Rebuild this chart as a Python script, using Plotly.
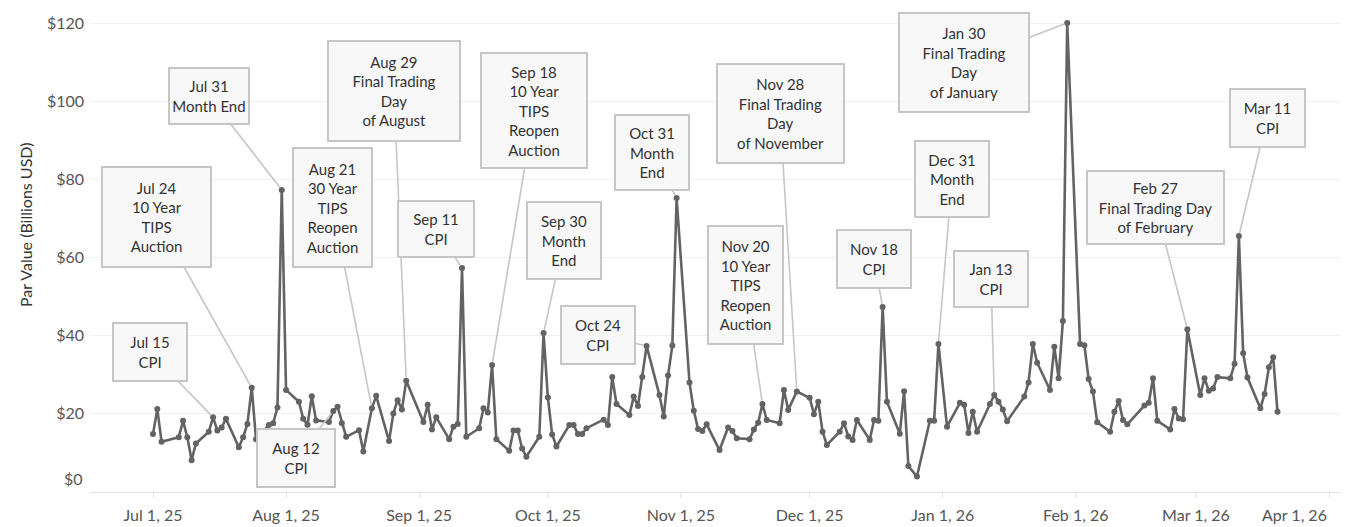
import plotly.graph_objects as go
from datetime import datetime, timedelta

# ---------------- data ----------------
dates = [
    "2025-07-01", "2025-07-02", "2025-07-03", "2025-07-07", "2025-07-08", "2025-07-09", "2025-07-10", "2025-07-11",
    "2025-07-14", "2025-07-15", "2025-07-16", "2025-07-17", "2025-07-18", "2025-07-21", "2025-07-22", "2025-07-23",
    "2025-07-24", "2025-07-25", "2025-07-28", "2025-07-29", "2025-07-30", "2025-07-31", "2025-08-01",
    "2025-08-04", "2025-08-05", "2025-08-06", "2025-08-07", "2025-08-08", "2025-08-11", "2025-08-12", "2025-08-13",
    "2025-08-14", "2025-08-15", "2025-08-18", "2025-08-19", "2025-08-21", "2025-08-22", "2025-08-25", "2025-08-26",
    "2025-08-27", "2025-08-28", "2025-08-29",
    "2025-09-02", "2025-09-03", "2025-09-04", "2025-09-05", "2025-09-08", "2025-09-09", "2025-09-10", "2025-09-11",
    "2025-09-12", "2025-09-15", "2025-09-16", "2025-09-17", "2025-09-18", "2025-09-19", "2025-09-22", "2025-09-23",
    "2025-09-24", "2025-09-25", "2025-09-26", "2025-09-29", "2025-09-30",
    "2025-10-01", "2025-10-02", "2025-10-03", "2025-10-06", "2025-10-07", "2025-10-08", "2025-10-09", "2025-10-10",
    "2025-10-14", "2025-10-15", "2025-10-16", "2025-10-17", "2025-10-20", "2025-10-21", "2025-10-22", "2025-10-23",
    "2025-10-24", "2025-10-27", "2025-10-28", "2025-10-29", "2025-10-30", "2025-10-31",
    "2025-11-03", "2025-11-04", "2025-11-05", "2025-11-06", "2025-11-07", "2025-11-10", "2025-11-12", "2025-11-13",
    "2025-11-14", "2025-11-17", "2025-11-18", "2025-11-19", "2025-11-20", "2025-11-21", "2025-11-24", "2025-11-25",
    "2025-11-26", "2025-11-28",
    "2025-12-01", "2025-12-02", "2025-12-03", "2025-12-04", "2025-12-05", "2025-12-08", "2025-12-09", "2025-12-10",
    "2025-12-11", "2025-12-12", "2025-12-15", "2025-12-16", "2025-12-17", "2025-12-18", "2025-12-19", "2025-12-22",
    "2025-12-23", "2025-12-24", "2025-12-26", "2025-12-29", "2025-12-30", "2025-12-31",
    "2026-01-02", "2026-01-05", "2026-01-06", "2026-01-07", "2026-01-08", "2026-01-09", "2026-01-12", "2026-01-13",
    "2026-01-14", "2026-01-15", "2026-01-16", "2026-01-20", "2026-01-21", "2026-01-22", "2026-01-23", "2026-01-26",
    "2026-01-27", "2026-01-28", "2026-01-29", "2026-01-30",
    "2026-02-02", "2026-02-03", "2026-02-04", "2026-02-05", "2026-02-06", "2026-02-09", "2026-02-10", "2026-02-11",
    "2026-02-12", "2026-02-13", "2026-02-17", "2026-02-18", "2026-02-19", "2026-02-20", "2026-02-23", "2026-02-24",
    "2026-02-25", "2026-02-26", "2026-02-27",
    "2026-03-02", "2026-03-03", "2026-03-04", "2026-03-05", "2026-03-06", "2026-03-09", "2026-03-10", "2026-03-11",
    "2026-03-12", "2026-03-13", "2026-03-16", "2026-03-17", "2026-03-18", "2026-03-19", "2026-03-20",
]
values = [
    14.6, 21.0, 12.6, 13.8, 18.0, 13.8, 7.9, 12.2,
    15.2, 18.9, 15.5, 16.3, 18.5, 11.2, 13.8, 17.2,
    26.5, 13.3, 16.9, 17.4, 21.4, 77.2, 25.9,
    22.9, 18.5, 17.0, 24.3, 18.1, 17.7, 20.5, 21.6,
    17.4, 13.9, 15.6, 10.1, 21.2, 24.4, 12.8, 19.9,
    23.3, 20.9, 28.3,
    17.7, 22.1, 15.8, 18.9, 13.3, 16.5, 17.2, 57.2,
    13.9, 16.1, 21.2, 20.1, 32.3, 13.3, 10.3, 15.5,
    15.5, 10.9, 8.8, 13.9, 40.5,
    24.0, 14.5, 11.4, 16.9, 16.9, 14.6, 14.6, 16.1,
    18.3, 16.9, 29.2, 22.3, 19.5, 24.2, 21.8, 29.2,
    37.2, 24.6, 19.1, 29.6, 37.3, 75.1,
    27.8, 20.6, 15.9, 15.4, 17.1, 10.5, 16.3, 15.4,
    13.5, 13.3, 15.8, 17.5, 22.3, 18.2, 17.4, 25.9,
    20.8, 25.5,
    23.9, 19.7, 22.9, 15.2, 11.8, 15.2, 17.4, 14.0,
    13.1, 18.2, 13.1, 18.2, 18.0, 47.2, 22.9, 14.7,
    25.6, 6.4, 3.7, 18.0, 18.0, 37.7,
    16.5, 22.6, 22.1, 14.9, 20.3, 15.2, 22.3, 24.6,
    22.9, 20.9, 17.9, 24.2, 27.8, 37.7, 32.9, 25.9,
    37.0, 28.9, 43.6, 120.0,
    37.7, 37.4, 28.7, 25.5, 17.6, 15.2, 20.3, 23.1,
    18.2, 17.1, 21.9, 22.6, 28.9, 18.0, 15.8, 21.0,
    18.6, 18.4, 41.5,
    24.6, 28.9, 25.7, 26.3, 29.2, 28.9, 32.6, 65.4,
    35.3, 29.1, 21.2, 24.9, 31.7, 34.3, 20.3,
]

tick_dates = ["2025-07-01", "2025-08-01", "2025-09-01", "2025-10-01", "2025-11-01",
              "2025-12-01", "2026-01-01", "2026-02-01", "2026-03-01", "2026-04-01"]
tick_labels = ["Jul 1, 25", "Aug 1, 25", "Sep 1, 25", "Oct 1, 25", "Nov 1, 25",
               "Dec 1, 25", "Jan 1, 26", "Feb 1, 26", "Mar 1, 26", "Apr 1, 26"]
y_ticks = [0, 20, 40, 60, 80, 100, 120]
y_tick_labels = ["$0", "$20", "$40", "$60", "$80", "$100", "$120"]
y_title = "Par Value (Billions USD)"

# annotation anchor dates and texts
ann_dates = ["2025-07-15", "2025-07-24", "2025-07-31", "2025-08-12", "2025-08-21", "2025-08-29",
             "2025-09-11", "2025-09-18", "2025-09-30", "2025-10-24", "2025-10-31", "2025-11-20",
             "2025-11-28", "2025-12-18", "2025-12-31", "2026-01-13", "2026-01-30", "2026-02-27",
             "2026-03-11"]
ann_texts = [
    "Jul 15<br>CPI",
    "Jul 24<br>10 Year<br>TIPS<br>Auction",
    "Jul 31<br>Month End",
    "Aug 12<br>CPI",
    "Aug 21<br>30 Year<br>TIPS<br>Reopen<br>Auction",
    "Aug 29<br>Final Trading<br>Day<br>of August",
    "Sep 11<br>CPI",
    "Sep 18<br>10 Year<br>TIPS<br>Reopen<br>Auction",
    "Sep 30<br>Month<br>End",
    "Oct 24<br>CPI",
    "Oct 31<br>Month<br>End",
    "Nov 20<br>10 Year<br>TIPS<br>Reopen<br>Auction",
    "Nov 28<br>Final Trading<br>Day<br>of November",
    "Nov 18<br>CPI",
    "Dec 31<br>Month<br>End",
    "Jan 13<br>CPI",
    "Jan 30<br>Final Trading<br>Day<br>of January",
    "Feb 27<br>Final Trading Day<br>of February",
    "Mar 11<br>CPI",
]

# ---------------- layout (pixel geometry) ----------------
W, H = 1348, 527
PL, PR, PT, PB = 90, 1340, 4, 492
TICK0_PX, TICKN_PX = 153, 1329          # Jul 1 2025 / Apr 1 2026 pixel positions
Y0_PX, PPU = 491, 3.9                   # pixel of value 0, pixels per unit

d_first = datetime(2025, 7, 1)
d_last = datetime(2026, 4, 1)
ppd = (TICKN_PX - TICK0_PX) / (d_last - d_first).days
x_start = d_first - timedelta(days=(TICK0_PX - PL) / ppd)
x_end = d_first + timedelta(days=(PR - TICK0_PX) / ppd)
y_lo = -(PB - Y0_PX) / PPU
y_hi = (Y0_PX - PT) / PPU


def px_x(d):
    return PL + (d - x_start).total_seconds() / 86400 * ppd


def px_y(v):
    return Y0_PX - v * PPU


def paper_x(px):
    return (px - PL) / (PR - PL)


def paper_y(py):
    return (PB - py) / (PB - PT)


# box centers and sizes in pixels
box_cx = [150, 156, 209, 296, 333, 394, 436, 534, 564, 598, 652, 745, 780, 874, 952, 991, 964, 1156, 1267]
box_cy = [352, 217, 96, 458, 207, 91, 229, 111, 240, 335, 152, 285, 113, 259, 179, 279, 62, 207, 118]
box_w = [76, 111, 82, 80, 81, 134, 78, 108, 76, 76, 76, 77, 129, 76, 76, 76, 132, 139, 77]
box_h = [60, 102, 58, 60, 121, 102, 58, 117, 79, 60, 77, 120, 101, 60, 78, 58, 101, 75, 60]

FONT = "Lato, 'Noto Sans', 'DejaVu Sans', sans-serif"
LINE_COLOR = "#636363"

fig = go.Figure()
fig.add_trace(go.Scatter(
    x=dates, y=values, mode="lines+markers",
    line=dict(color=LINE_COLOR, width=2.6),
    marker=dict(color=LINE_COLOR, size=6),
    hoverinfo="x+y", showlegend=False,
))

annotations = []
val_by_date = dict(zip(dates, values))
for d, txt, cx, cy, bw, bh in zip(ann_dates, ann_texts, box_cx, box_cy, box_w, box_h):
    v = val_by_date[d]
    dt = datetime.strptime(d, "%Y-%m-%d")
    annotations.append(dict(
        x=d, y=v, xref="x", yref="y",
        text=txt, showarrow=True, arrowhead=0, arrowwidth=1.6, arrowcolor="#c6c6c6",
        standoff=3,
        ax=cx - px_x(dt), ay=cy - px_y(v),
        width=bw - 4, height=bh - 4, borderpad=0,
        bgcolor="#f8f8f8", bordercolor="#c6c6c6", borderwidth=2,
        font=dict(family=FONT, size=15, color="#333333"),
        align="center", valign="middle",
    ))

# y-axis title
annotations.append(dict(
    x=paper_x(25), y=paper_y(225), xref="paper", yref="paper",
    text=y_title, textangle=-90, showarrow=False,
    font=dict(family=FONT, size=16, color="#333333"),
    xanchor="center", yanchor="middle",
))
# last x tick label kept inside the canvas
annotations.append(dict(
    x=tick_dates[-1], y=paper_y(514), xref="x", yref="paper",
    text=tick_labels[-1], showarrow=False, xanchor="right", yanchor="middle",
    font=dict(family=FONT, size=16, color="#555555"),
))
# "$0" label sits slightly above the baseline as in the reference
annotations.append(dict(
    x=paper_x(PL - 5), y=paper_y(478), xref="paper", yref="paper",
    text=y_tick_labels[0], showarrow=False, xanchor="right", yanchor="middle",
    font=dict(family=FONT, size=16, color="#555555"),
))

fig.update_layout(
    width=W, height=H,
    margin=dict(l=PL, r=W - PR, t=PT, b=H - PB, autoexpand=False),
    plot_bgcolor="white", paper_bgcolor="white",
    font=dict(family=FONT, color="#555555"),
    annotations=annotations,
    xaxis=dict(
        type="date", range=[x_start, x_end],
        tickvals=tick_dates, ticktext=tick_labels[:-1] + [""],
        showgrid=False, showline=True, linecolor="#e3e3e3", linewidth=1,
        ticks="outside", ticklen=5, tickcolor="#e3e3e3",
        tickfont=dict(family=FONT, size=16, color="#555555"),
        ticklabelstandoff=4, zeroline=False,
    ),
    yaxis=dict(
        range=[y_lo, y_hi],
        tickvals=y_ticks, ticktext=[""] + y_tick_labels[1:],
        showgrid=True, gridcolor="#f0f0f0", gridwidth=1,
        zeroline=False, showline=False, ticks="",
        tickfont=dict(family=FONT, size=16, color="#555555"),
        ticklabelstandoff=5,
    ),
)

fig.write_html(
    "out.html",
    config={"displayModeBar": False},
    post_script="document.body.style.margin='0';document.body.style.overflow='hidden';",
)
